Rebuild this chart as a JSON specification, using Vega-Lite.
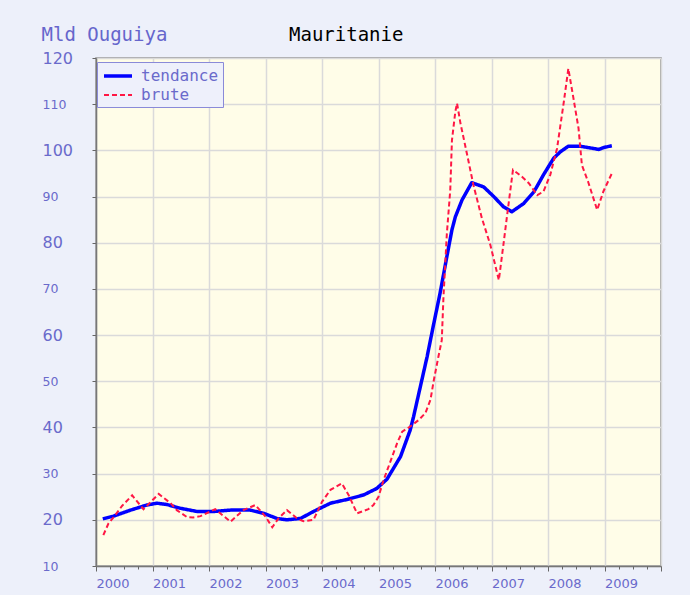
{
  "$schema": "https://vega.github.io/schema/vega-lite/v6.json",
  "width": 565,
  "height": 508,
  "autosize": {"type": "none"},
  "padding": {"left": 96, "top": 58, "right": 29, "bottom": 29},
  "background": "#edf0fa",
  "data": {
    "values": [
      {"serie": "tendance", "annee": 2000.12, "valeur": 20.2},
      {"serie": "tendance", "annee": 2000.31, "valeur": 20.8},
      {"serie": "tendance", "annee": 2000.61, "valeur": 22.1},
      {"serie": "tendance", "annee": 2000.90, "valeur": 23.2},
      {"serie": "tendance", "annee": 2001.08, "valeur": 23.6},
      {"serie": "tendance", "annee": 2001.26, "valeur": 23.3},
      {"serie": "tendance", "annee": 2001.49, "valeur": 22.5},
      {"serie": "tendance", "annee": 2001.79, "valeur": 21.8},
      {"serie": "tendance", "annee": 2002.08, "valeur": 21.8},
      {"serie": "tendance", "annee": 2002.38, "valeur": 22.1},
      {"serie": "tendance", "annee": 2002.73, "valeur": 22.1},
      {"serie": "tendance", "annee": 2002.97, "valeur": 21.4},
      {"serie": "tendance", "annee": 2003.20, "valeur": 20.3},
      {"serie": "tendance", "annee": 2003.38, "valeur": 20.0},
      {"serie": "tendance", "annee": 2003.62, "valeur": 20.3},
      {"serie": "tendance", "annee": 2003.85, "valeur": 21.8},
      {"serie": "tendance", "annee": 2004.15, "valeur": 23.6},
      {"serie": "tendance", "annee": 2004.44, "valeur": 24.4},
      {"serie": "tendance", "annee": 2004.74, "valeur": 25.4},
      {"serie": "tendance", "annee": 2004.97, "valeur": 26.8},
      {"serie": "tendance", "annee": 2005.15, "valeur": 28.8},
      {"serie": "tendance", "annee": 2005.39, "valeur": 33.7},
      {"serie": "tendance", "annee": 2005.56, "valeur": 39.4},
      {"serie": "tendance", "annee": 2005.62, "valeur": 42.3},
      {"serie": "tendance", "annee": 2005.74, "valeur": 48.8},
      {"serie": "tendance", "annee": 2005.86, "valeur": 55.3},
      {"serie": "tendance", "annee": 2005.98, "valeur": 62.6},
      {"serie": "tendance", "annee": 2006.09, "valeur": 69.1},
      {"serie": "tendance", "annee": 2006.21, "valeur": 77.0},
      {"serie": "tendance", "annee": 2006.30, "valeur": 82.8},
      {"serie": "tendance", "annee": 2006.36, "valeur": 85.6},
      {"serie": "tendance", "annee": 2006.48, "valeur": 89.3},
      {"serie": "tendance", "annee": 2006.65, "valeur": 93.0},
      {"serie": "tendance", "annee": 2006.86, "valeur": 92.1},
      {"serie": "tendance", "annee": 2007.04, "valeur": 90.0},
      {"serie": "tendance", "annee": 2007.21, "valeur": 87.8},
      {"serie": "tendance", "annee": 2007.36, "valeur": 86.7},
      {"serie": "tendance", "annee": 2007.57, "valeur": 88.5},
      {"serie": "tendance", "annee": 2007.75, "valeur": 91.0},
      {"serie": "tendance", "annee": 2007.92, "valeur": 94.7},
      {"serie": "tendance", "annee": 2008.10, "valeur": 98.3},
      {"serie": "tendance", "annee": 2008.22, "valeur": 99.7},
      {"serie": "tendance", "annee": 2008.36, "valeur": 100.9},
      {"serie": "tendance", "annee": 2008.57, "valeur": 100.9},
      {"serie": "tendance", "annee": 2008.81, "valeur": 100.4},
      {"serie": "tendance", "annee": 2008.90, "valeur": 100.2},
      {"serie": "tendance", "annee": 2008.98, "valeur": 100.6},
      {"serie": "tendance", "annee": 2009.13, "valeur": 101.0},
      {"serie": "brute", "annee": 2000.13, "valeur": 16.7},
      {"serie": "brute", "annee": 2000.22, "valeur": 19.2},
      {"serie": "brute", "annee": 2000.34, "valeur": 21.0},
      {"serie": "brute", "annee": 2000.46, "valeur": 23.0},
      {"serie": "brute", "annee": 2000.64, "valeur": 25.3},
      {"serie": "brute", "annee": 2000.84, "valeur": 22.3},
      {"serie": "brute", "annee": 2001.11, "valeur": 25.6},
      {"serie": "brute", "annee": 2001.32, "valeur": 23.6},
      {"serie": "brute", "annee": 2001.43, "valeur": 22.1},
      {"serie": "brute", "annee": 2001.61, "valeur": 20.6},
      {"serie": "brute", "annee": 2001.72, "valeur": 20.5},
      {"serie": "brute", "annee": 2001.85, "valeur": 20.8},
      {"serie": "brute", "annee": 2002.11, "valeur": 22.3},
      {"serie": "brute", "annee": 2002.38, "valeur": 19.6},
      {"serie": "brute", "annee": 2002.61, "valeur": 22.1},
      {"serie": "brute", "annee": 2002.82, "valeur": 23.2},
      {"serie": "brute", "annee": 2003.00, "valeur": 20.7},
      {"serie": "brute", "annee": 2003.12, "valeur": 18.4},
      {"serie": "brute", "annee": 2003.23, "valeur": 20.3},
      {"serie": "brute", "annee": 2003.38, "valeur": 22.1},
      {"serie": "brute", "annee": 2003.56, "valeur": 20.3},
      {"serie": "brute", "annee": 2003.67, "valeur": 19.7},
      {"serie": "brute", "annee": 2003.85, "valeur": 20.0},
      {"serie": "brute", "annee": 2004.00, "valeur": 23.9},
      {"serie": "brute", "annee": 2004.15, "valeur": 26.5},
      {"serie": "brute", "annee": 2004.35, "valeur": 27.9},
      {"serie": "brute", "annee": 2004.47, "valeur": 25.4},
      {"serie": "brute", "annee": 2004.62, "valeur": 21.4},
      {"serie": "brute", "annee": 2004.82, "valeur": 22.3},
      {"serie": "brute", "annee": 2004.91, "valeur": 23.2},
      {"serie": "brute", "annee": 2005.00, "valeur": 25.0},
      {"serie": "brute", "annee": 2005.09, "valeur": 28.6},
      {"serie": "brute", "annee": 2005.21, "valeur": 32.6},
      {"serie": "brute", "annee": 2005.33, "valeur": 36.6},
      {"serie": "brute", "annee": 2005.42, "valeur": 39.1},
      {"serie": "brute", "annee": 2005.56, "valeur": 40.2},
      {"serie": "brute", "annee": 2005.71, "valeur": 41.6},
      {"serie": "brute", "annee": 2005.83, "valeur": 43.1},
      {"serie": "brute", "annee": 2005.92, "valeur": 46.0},
      {"serie": "brute", "annee": 2005.98, "valeur": 50.3},
      {"serie": "brute", "annee": 2006.06, "valeur": 55.3},
      {"serie": "brute", "annee": 2006.12, "valeur": 58.9},
      {"serie": "brute", "annee": 2006.15, "valeur": 68.3},
      {"serie": "brute", "annee": 2006.21, "valeur": 82.0},
      {"serie": "brute", "annee": 2006.27, "valeur": 91.4},
      {"serie": "brute", "annee": 2006.30, "valeur": 102.2},
      {"serie": "brute", "annee": 2006.36, "valeur": 108.4},
      {"serie": "brute", "annee": 2006.39, "valeur": 110.2},
      {"serie": "brute", "annee": 2006.45, "valeur": 105.9},
      {"serie": "brute", "annee": 2006.57, "valeur": 99.0},
      {"serie": "brute", "annee": 2006.68, "valeur": 92.5},
      {"serie": "brute", "annee": 2006.83, "valeur": 85.3},
      {"serie": "brute", "annee": 2006.98, "valeur": 79.5},
      {"serie": "brute", "annee": 2007.13, "valeur": 71.9},
      {"serie": "brute", "annee": 2007.21, "valeur": 79.5},
      {"serie": "brute", "annee": 2007.30, "valeur": 88.2},
      {"serie": "brute", "annee": 2007.38, "valeur": 95.8},
      {"serie": "brute", "annee": 2007.54, "valeur": 94.3},
      {"serie": "brute", "annee": 2007.66, "valeur": 92.9},
      {"serie": "brute", "annee": 2007.81, "valeur": 90.3},
      {"serie": "brute", "annee": 2007.92, "valeur": 91.1},
      {"serie": "brute", "annee": 2008.04, "valeur": 94.7},
      {"serie": "brute", "annee": 2008.16, "valeur": 100.4},
      {"serie": "brute", "annee": 2008.28, "valeur": 110.5},
      {"serie": "brute", "annee": 2008.36, "valeur": 117.7},
      {"serie": "brute", "annee": 2008.45, "valeur": 111.3},
      {"serie": "brute", "annee": 2008.54, "valeur": 104.8},
      {"serie": "brute", "annee": 2008.60, "valeur": 96.8},
      {"serie": "brute", "annee": 2008.71, "valeur": 93.2},
      {"serie": "brute", "annee": 2008.87, "valeur": 87.1},
      {"serie": "brute", "annee": 2008.98, "valeur": 91.1},
      {"serie": "brute", "annee": 2009.13, "valeur": 95.0}
    ]
  },
  "layer": [
    {
      "transform": [{"filter": "datum.serie === 'tendance'"}],
      "mark": {"type": "line", "strokeJoin": "round"},
      "encoding": {
        "x": {
          "field": "annee",
          "type": "quantitative",
          "scale": {"domain": [2000, 2010], "nice": false, "zero": false},
          "axis": {
            "orient": "bottom",
            "values": [2000, 2001, 2002, 2003, 2004, 2005, 2006, 2007, 2008, 2009, 2010],
            "format": "d",
            "labelExpr": "datum.value < 2010 ? datum.label : ''",
            "grid": true,
            "gridColor": "#dadada",
            "gridWidth": 1.5,
            "tickSize": 5,
            "tickColor": "#666666",
            "domainColor": "#777777",
            "domainWidth": 1.5,
            "labelAlign": "left",
            "labelDx": 6,
            "labelFlush": false,
            "labelBaseline": "top",
            "labelPadding": 6,
            "labelFont": "DejaVu Sans",
            "labelFontSize": 13,
            "labelColor": "#6a6acb",
            "title": "Mauritanie",
            "titleX": 192.5,
            "titleY": -525.3,
            "titleAlign": "left",
            "titleBaseline": "alphabetic",
            "titleFont": "DejaVu Sans Mono",
            "titleFontSize": 19,
            "titleFontWeight": "normal",
            "titleColor": "#000000"
          }
        },
        "y": {
          "field": "valeur",
          "type": "quantitative",
          "scale": {"domain": [10, 120], "nice": false, "zero": false},
          "axis": {
            "values": [10, 20, 30, 40, 50, 60, 70, 80, 90, 100, 110, 120],
            "grid": true,
            "gridColor": "#dadada",
            "gridWidth": 1.5,
            "tickSize": 4,
            "tickColor": "#666666",
            "domainColor": "#777777",
            "domainWidth": 1.5,
            "labelAlign": "left",
            "labelBaseline": "middle",
            "labelPadding": 50,
            "labelFont": "DejaVu Sans",
            "labelFontSize": {"condition": {"test": "datum.value % 20 === 0", "value": 16}, "value": 12.5},
            "labelColor": "#6a6acb",
            "title": "Mld Ouguiya",
            "titleX": -55,
            "titleY": -17.3,
            "titleAngle": 0,
            "titleAlign": "left",
            "titleBaseline": "alphabetic",
            "titleFont": "DejaVu Sans Mono",
            "titleFontSize": 19,
            "titleFontWeight": "normal",
            "titleColor": "#6666cc"
          }
        },
        "color": {
          "field": "serie",
          "type": "nominal",
          "scale": {"domain": ["tendance", "brute"], "range": ["#0000ff", "#ff1744"]},
          "legend": {"orient": "none", "legendX": 1, "legendY": 4, "title": null}
        },
        "strokeDash": {
          "field": "serie",
          "type": "nominal",
          "scale": {"domain": ["tendance", "brute"], "range": [[1, 0], [5, 3]]},
          "legend": {"orient": "none", "legendX": 1, "legendY": 4, "title": null}
        },
        "strokeWidth": {
          "field": "serie",
          "type": "nominal",
          "scale": {"domain": ["tendance", "brute"], "range": [3.5, 2]},
          "legend": {"orient": "none", "legendX": 1, "legendY": 4, "title": null}
        }
      }
    },
    {
      "transform": [{"filter": "datum.serie === 'brute'"}],
      "mark": {"type": "line", "strokeJoin": "miter"},
      "encoding": {
        "x": {
          "field": "annee",
          "type": "quantitative",
          "axis": {
            "orient": "bottom",
            "values": [2000.25, 2000.5, 2000.75, 2001.25, 2001.5, 2001.75, 2002.25, 2002.5, 2002.75, 2003.25, 2003.5, 2003.75, 2004.25, 2004.5, 2004.75, 2005.25, 2005.5, 2005.75, 2006.25, 2006.5, 2006.75, 2007.25, 2007.5, 2007.75, 2008.25, 2008.5, 2008.75, 2009.25, 2009.5, 2009.75],
            "labels": false,
            "grid": false,
            "domain": false,
            "tickSize": 3,
            "tickColor": "#666666",
            "title": null
          }
        },
        "y": {"field": "valeur", "type": "quantitative"},
        "color": {"field": "serie", "type": "nominal"},
        "strokeDash": {"field": "serie", "type": "nominal"},
        "strokeWidth": {"field": "serie", "type": "nominal"}
      }
    }
  ],
  "resolve": {"axis": {"x": "independent"}},
  "config": {
    "view": {"fill": "#fffde8", "stroke": "#8c8c8c", "strokeWidth": 1.5},
    "legend": {
      "fillColor": "#eef0fb",
      "strokeColor": "#8a8ad8",
      "padding": 4,
      "symbolType": "M-1.75,0H1.75",
      "symbolSize": 256,
      "symbolOffset": 7,
      "labelFont": "DejaVu Sans Mono",
      "labelFontSize": 16,
      "labelColor": "#6a6acb",
      "labelOffset": 13,
      "rowPadding": 2
    }
  }
}
